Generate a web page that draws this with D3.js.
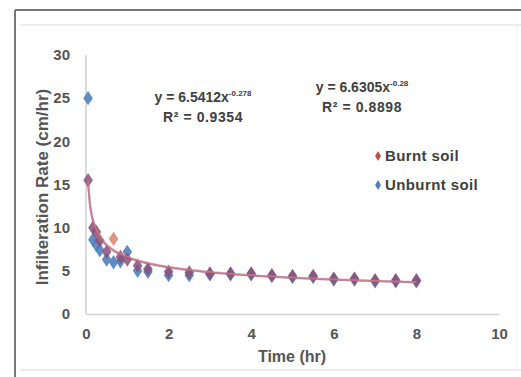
<!DOCTYPE html>
<html>
<head>
<meta charset="utf-8">
<script src="https://cdn.jsdelivr.net/npm/d3@7"></script>
<style>
  html, body { margin: 0; padding: 0; background: #fff; }
  svg { display: block; }
  text { font-family: "Liberation Sans", Arial, sans-serif; }
</style>
</head>
<body>
<svg id="chart" width="521" height="377"></svg>
<script>
// ---- data ----
const times = [0.05, 0.167, 0.25, 0.333, 0.5, 0.667, 0.833, 1, 1.25, 1.5, 2, 2.5, 3, 3.5, 4, 4.5, 5, 5.5, 6, 6.5, 7, 7.5, 8];
const burnt   = [15.5, 10, 9.5, 8.5, 7.2, 8.7, 6.6, 6.3, 5.6, 5.2, 4.9, 4.8, 4.7, 4.7, 4.7, 4.5, 4.4, 4.4, 4.1, 4.1, 3.9, 3.9, 3.9];
const unburnt = [25, 8.6, 8.0, 7.4, 6.3, 6.0, 6.1, 7.2, 5.0, 4.9, 4.5, 4.5, 4.6, 4.6, 4.6, 4.4, 4.3, 4.3, 4.0, 4.0, 3.8, 3.8, 3.8];
const xTicks = [0, 2, 4, 6, 8, 10];
const yTicks = [0, 5, 10, 15, 20, 25, 30];
const seriesNames = ["Burnt soil", "Unburnt soil"];
// trendline coefficients (power fits shown on chart)
const fitUnburnt = { a: 6.5412, b: -0.278, label: "y = 6.5412x", exp: "-0.278", r2: "R² = 0.9354" };
const fitBurnt   = { a: 6.6305, b: -0.28,  label: "y = 6.6305x", exp: "-0.28",  r2: "R² = 0.8898" };

const colBurnt = "#c0504d", colUnburnt = "#4f81bd";

const svg = d3.select("#chart");

// frame
svg.append("line").attr("x1", 15).attr("x2", 521).attr("y1", 10).attr("y2", 10).attr("stroke", "#777").attr("stroke-width", 2);
svg.append("line").attr("x1", 15).attr("x2", 15).attr("y1", 10).attr("y2", 377).attr("stroke", "#777").attr("stroke-width", 2);
svg.append("line").attr("x1", 20).attr("x2", 521).attr("y1", 25).attr("y2", 25).attr("stroke", "#ececec").attr("stroke-width", 2);
svg.append("line").attr("x1", 20).attr("x2", 521).attr("y1", 370).attr("y2", 370).attr("stroke", "#ececec").attr("stroke-width", 2);
svg.append("line").attr("x1", 517).attr("x2", 517).attr("y1", 25).attr("y2", 370).attr("stroke", "#f0f0f0").attr("stroke-width", 1);

const x = d3.scaleLinear().domain([0, 10]).range([86, 499]);
const y = d3.scaleLinear().domain([0, 30]).range([314, 55]);

// axes
const xAxis = svg.append("g").attr("transform", "translate(0,314)")
  .call(d3.axisBottom(x).tickValues(xTicks).tickSize(0).tickPadding(14));
const yAxis = svg.append("g").attr("transform", "translate(86,0)")
  .call(d3.axisLeft(y).tickValues(yTicks).tickSize(0).tickPadding(16));
[xAxis, yAxis].forEach(g => {
  g.select(".domain").attr("stroke", "#d0d0d0").attr("stroke-width", 1.5);
  g.selectAll("text").attr("font-size", 15).attr("font-weight", "bold").attr("fill", "#555")
    .attr("font-family", "'Liberation Sans', Arial, sans-serif");
});
yAxis.select(".domain").attr("d", "M0," + y(30) + "V" + y(0));

// axis titles
svg.append("text").attr("x", 292).attr("y", 362).attr("text-anchor", "middle")
  .attr("font-size", 16).attr("font-weight", "bold").attr("fill", "#555").text("Time (hr)");
svg.append("text").attr("transform", "translate(48,187) rotate(-90)").attr("text-anchor", "middle")
  .attr("font-size", 17).attr("font-weight", "bold").attr("fill", "#555").text("Infilteration Rate (cm/hr)");

// trendlines
const tSamples = d3.range(0, 161).map(i => 0.05 + i * (8 - 0.05) / 160);
const line = d3.line().x(d => x(d[0])).y(d => y(d[1])).curve(d3.curveLinear);
svg.append("path").datum(tSamples.map(t => [t, fitUnburnt.a * Math.pow(t, fitUnburnt.b)]))
  .attr("d", line).attr("fill", "none").attr("stroke", "#7f6fb0").attr("stroke-width", 2).attr("opacity", 0.8);

// markers
const diamond = d3.symbol().type(d3.symbolDiamond).size(60);
svg.append("g").selectAll("path").data(times.map((t, i) => [t, unburnt[i]])).join("path")
  .attr("d", diamond).attr("transform", d => `translate(${x(d[0])},${y(d[1])}) scale(1.15,1)`)
  .attr("fill", colUnburnt).attr("opacity", 0.9);
svg.append("g").selectAll("path").data(times.map((t, i) => [t, burnt[i]])).join("path")
  .attr("d", diamond).attr("transform", d => `translate(${x(d[0])},${y(d[1])}) scale(1.15,1)`)
  .attr("fill", (d, i) => i === 5 ? "#d9826a" : "#8a4f78").attr("opacity", 0.85);
svg.append("path").datum(tSamples.map(t => [t, fitBurnt.a * Math.pow(t, fitBurnt.b)]))
  .attr("d", line).attr("fill", "none").attr("stroke", "#e07b7b").attr("stroke-width", 2).attr("opacity", 0.7);

// equations
function eq(fit, cx, cy) {
  const t = svg.append("text").attr("x", cx).attr("y", cy).attr("text-anchor", "middle")
    .attr("font-size", 14).attr("font-weight", "bold").attr("fill", "#404040");
  t.append("tspan").text(fit.label);
  t.append("tspan").attr("dy", -6).attr("font-size", 8).text(fit.exp);
  svg.append("text").attr("x", cx).attr("y", cy + 20).attr("text-anchor", "middle")
    .attr("font-size", 14).attr("font-weight", "bold").attr("fill", "#404040")
    .attr("letter-spacing", 0.6).text(fit.r2);
}
eq(fitUnburnt, 203, 102);
eq(fitBurnt, 362, 92);

// legend
const legCols = [colBurnt, colUnburnt];
seriesNames.forEach((name, i) => {
  const ly = 156 + i * 29;
  svg.append("path").attr("d", d3.symbol().type(d3.symbolDiamond).size(30)())
    .attr("transform", `translate(378,${ly})`).attr("fill", legCols[i]);
  svg.append("text").attr("x", 385).attr("y", ly + 5).attr("font-size", 15).attr("font-weight", "bold")
    .attr("letter-spacing", 0.4).attr("fill", "#404040").text(name);
});
</script>
</body>
</html>
